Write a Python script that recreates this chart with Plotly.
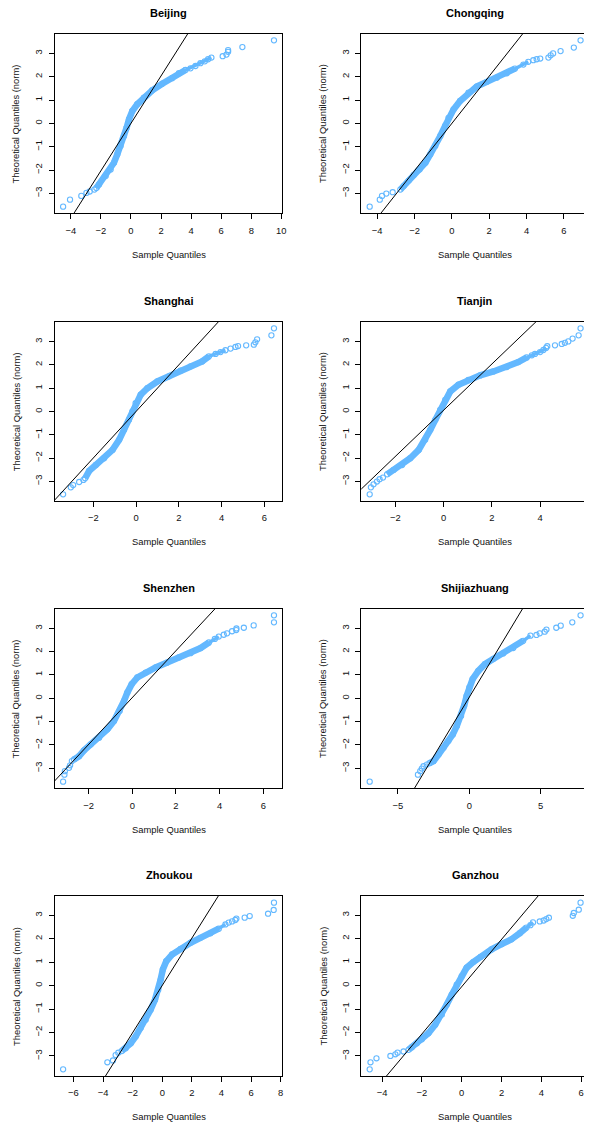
import plotly.graph_objects as go

# The page has an 8px body margin, so the figure is drawn 8px smaller and
# all pixel positions below are expressed in window pixels minus that offset.
OFF = 8
W, H = 592 - OFF, 1124 - OFF

cities = ["Beijing", "Chongqing", "Shanghai", "Tianjin",
          "Shenzhen", "Shijiazhuang", "Zhoukou", "Ganzhou"]

# ---- Beijing ----
beijing_low_x = [-4.51, -4.05, -3.30, -2.96, -2.74, -2.43]
beijing_low_y = [-3.57, -3.27, -3.11, -2.98, -2.92, -2.84]
beijing_body_x = [-2.30, -2.12, -1.68, -1.35, -1.13, -0.91, -0.69, -0.46, -0.29, -0.13, 0.09, 0.42,
                  0.86, 1.42, 2.08, 2.74, 3.19, 3.63, 3.96, 4.29, 4.62, 4.91, 5.13, 5.35]
beijing_body_y = [-2.77, -2.62, -2.26, -1.98, -1.69, -1.33, -0.97, -0.54, -0.19, 0.17, 0.53, 0.82,
                  1.10, 1.42, 1.70, 1.94, 2.15, 2.29, 2.36, 2.46, 2.58, 2.66, 2.75, 2.82]
beijing_high_x = [6.10, 6.35, 6.46, 6.46, 7.41, 9.51]
beijing_high_y = [2.88, 2.95, 3.07, 3.14, 3.27, 3.56]
beijing_qqline = (1.017, 0.0)

# ---- Chongqing ----
chongqing_low_x = [-4.40, -3.86, -3.74, -3.51, -3.17]
chongqing_low_y = [-3.57, -3.27, -3.11, -3.01, -2.95]
chongqing_body_x = [-2.76, -2.58, -2.31, -2.05, -1.73, -1.42, -1.16, -0.89, -0.62, -0.36, -0.18, 0.09,
                    0.44, 0.89, 1.33, 1.87, 2.40, 2.94, 3.38, 3.83, 4.09]
chongqing_body_y = [-2.84, -2.69, -2.45, -2.22, -1.98, -1.69, -1.33, -0.97, -0.54, -0.11, 0.24, 0.60,
                    0.96, 1.32, 1.58, 1.78, 1.96, 2.15, 2.35, 2.52, 2.64]
chongqing_high_x = [4.36, 4.54, 4.73, 5.17, 5.29, 5.42, 5.82, 6.53, 6.89]
chongqing_high_y = [2.71, 2.75, 2.78, 2.82, 2.92, 3.00, 3.10, 3.25, 3.56]
chongqing_qqline = (1.013, 0.0)

# ---- Shanghai ----
shanghai_low_x = [-3.41, -3.05, -2.94, -2.66, -2.46]
shanghai_low_y = [-3.56, -3.26, -3.16, -3.03, -2.94]
shanghai_body_x = [-2.38, -2.19, -1.88, -1.49, -1.10, -0.79, -0.56, -0.33, -0.17, -0.02, 0.22, 0.53,
                   1.00, 1.54, 2.08, 2.55, 3.09, 3.41, 3.72, 3.95, 4.18]
shanghai_body_y = [-2.87, -2.55, -2.30, -2.01, -1.65, -1.22, -0.79, -0.36, 0.00, 0.36, 0.72, 1.00,
                   1.29, 1.51, 1.75, 1.94, 2.15, 2.37, 2.47, 2.55, 2.63]
shanghai_high_x = [4.42, 4.65, 4.77, 5.15, 5.51, 5.58, 5.66, 6.33, 6.45]
shanghai_high_y = [2.70, 2.77, 2.81, 2.84, 2.87, 2.97, 3.10, 3.27, 3.57]
shanghai_qqline = (1.0, 0.0)

# ---- Tianjin ----
tianjin_low_x = [-3.06, -3.01, -2.90, -2.76, -2.65, -2.51]
tianjin_low_y = [-3.56, -3.26, -3.13, -3.01, -2.91, -2.84]
tianjin_body_x = [-2.34, -2.07, -1.72, -1.38, -1.03, -0.76, -0.55, -0.34, -0.14, 0.07, 0.28, 0.62,
                  1.03, 1.52, 2.07, 2.62, 3.10, 3.45, 3.66, 3.79, 4.00, 4.14, 4.25]
tianjin_body_y = [-2.70, -2.51, -2.30, -2.01, -1.65, -1.22, -0.79, -0.36, 0.07, 0.50, 0.86, 1.15,
                  1.36, 1.55, 1.72, 1.91, 2.12, 2.32, 2.41, 2.47, 2.55, 2.64, 2.73]
tianjin_high_x = [4.30, 4.62, 4.90, 5.03, 5.17, 5.35, 5.60, 5.68]
tianjin_high_y = [2.80, 2.84, 2.90, 2.95, 3.01, 3.13, 3.27, 3.57]
tianjin_qqline = (0.992, 0.05)

# ---- Shenzhen ----
shenzhen_low_x = [-3.17, -3.11, -3.09, -2.90, -2.85, -2.77]
shenzhen_low_y = [-3.57, -3.27, -3.12, -2.98, -2.87, -2.69]
shenzhen_body_x = [-2.67, -2.44, -2.21, -1.91, -1.52, -1.14, -0.84, -0.58, -0.38, -0.23, -0.03, 0.23,
                   0.61, 1.07, 1.60, 2.13, 2.67, 3.13, 3.51, 3.78, 3.96]
shenzhen_body_y = [-2.62, -2.48, -2.23, -1.98, -1.69, -1.33, -0.97, -0.54, -0.11, 0.24, 0.60, 0.89,
                   1.10, 1.32, 1.53, 1.75, 1.93, 2.15, 2.39, 2.54, 2.64]
shenzhen_high_x = [4.19, 4.34, 4.57, 4.76, 4.77, 5.11, 5.56, 6.49, 6.49]
shenzhen_high_y = [2.72, 2.78, 2.87, 2.92, 2.99, 3.02, 3.12, 3.25, 3.55]
shenzhen_qqline = (1.003, 0.03)

# ---- Shijiazhuang ----
shijiazhuang_low_x = [-6.98, -3.60, -3.44, -3.33, -3.21, -2.98]
shijiazhuang_low_y = [-3.57, -3.27, -3.12, -3.01, -2.91, -2.84]
shijiazhuang_body_x = [-2.79, -2.51, -2.16, -1.81, -1.47, -1.16, -0.88, -0.58, -0.37, -0.19, 0.00, 0.23,
                       0.63, 1.09, 1.67, 2.37, 3.07, 3.77, 4.28]
shijiazhuang_body_y = [-2.78, -2.69, -2.41, -2.12, -1.83, -1.55, -1.19, -0.76, -0.33, 0.10, 0.46, 0.82,
                       1.17, 1.46, 1.68, 1.92, 2.15, 2.46, 2.68]
shijiazhuang_high_x = [4.70, 4.93, 5.28, 5.40, 6.09, 6.40, 7.21, 7.79]
shijiazhuang_high_y = [2.71, 2.78, 2.85, 2.94, 3.02, 3.11, 3.25, 3.55]
shijiazhuang_qqline = (1.015, 0.05)

# ---- Zhoukou ----
zhoukou_low_x = [-6.70, -3.71, -3.33, -3.15, -2.97]
zhoukou_low_y = [-3.57, -3.27, -3.19, -2.96, -2.86]
zhoukou_body_x = [-2.74, -2.47, -2.13, -1.80, -1.46, -1.12, -0.79, -0.49, -0.27, -0.11, 0.04, 0.27,
                  0.67, 1.24, 1.91, 2.58, 3.26, 3.82, 4.27]
zhoukou_body_y = [-2.79, -2.67, -2.46, -2.17, -1.81, -1.46, -1.03, -0.60, -0.17, 0.26, 0.69, 1.04,
                  1.33, 1.57, 1.83, 2.04, 2.23, 2.43, 2.61]
zhoukou_high_x = [4.49, 4.72, 4.94, 5.01, 5.57, 5.91, 7.15, 7.53, 7.55]
zhoukou_high_y = [2.69, 2.74, 2.80, 2.86, 2.90, 2.97, 3.07, 3.23, 3.54]
zhoukou_qqline = (1.007, 0.01)

# ---- Ganzhou ----
ganzhou_low_x = [-4.62, -4.58, -4.28, -3.58, -3.33, -3.22, -2.92]
ganzhou_low_y = [-3.57, -3.27, -3.10, -3.00, -2.93, -2.86, -2.81]
ganzhou_body_x = [-2.67, -2.50, -2.25, -2.00, -1.67, -1.33, -1.00, -0.75, -0.50, -0.25, 0.00, 0.25,
                  0.58, 0.95, 1.50, 2.00, 2.50, 2.92, 3.25, 3.45, 3.58]
ganzhou_body_y = [-2.74, -2.63, -2.46, -2.29, -2.03, -1.67, -1.24, -0.81, -0.39, 0.04, 0.40, 0.76,
                  1.00, 1.22, 1.54, 1.76, 1.97, 2.23, 2.47, 2.57, 2.69]
ganzhou_high_x = [3.92, 4.12, 4.25, 4.38, 5.58, 5.63, 5.88, 5.97]
ganzhou_high_y = [2.73, 2.77, 2.83, 2.89, 2.97, 3.09, 3.23, 3.53]
ganzhou_qqline = (1.007, -0.05)

x_dticks = [2, 2, 2, 2, 2, 5, 2, 2]

panels = [
    (beijing_low_x, beijing_low_y, beijing_body_x, beijing_body_y, beijing_high_x, beijing_high_y, beijing_qqline),
    (chongqing_low_x, chongqing_low_y, chongqing_body_x, chongqing_body_y, chongqing_high_x, chongqing_high_y, chongqing_qqline),
    (shanghai_low_x, shanghai_low_y, shanghai_body_x, shanghai_body_y, shanghai_high_x, shanghai_high_y, shanghai_qqline),
    (tianjin_low_x, tianjin_low_y, tianjin_body_x, tianjin_body_y, tianjin_high_x, tianjin_high_y, tianjin_qqline),
    (shenzhen_low_x, shenzhen_low_y, shenzhen_body_x, shenzhen_body_y, shenzhen_high_x, shenzhen_high_y, shenzhen_qqline),
    (shijiazhuang_low_x, shijiazhuang_low_y, shijiazhuang_body_x, shijiazhuang_body_y, shijiazhuang_high_x, shijiazhuang_high_y, shijiazhuang_qqline),
    (zhoukou_low_x, zhoukou_low_y, zhoukou_body_x, zhoukou_body_y, zhoukou_high_x, zhoukou_high_y, zhoukou_qqline),
    (ganzhou_low_x, ganzhou_low_y, ganzhou_body_x, ganzhou_body_y, ganzhou_high_x, ganzhou_high_y, ganzhou_qqline),
]

# ---- layout geometry (window pixels) ----
BOX_W = 229.3
col_left = [55.0, 363.7]
row_top = [33.7, 321.7, 608.7, 896.0]
row_bottom = [213.3, 501.0, 788.3, 1076.0]

PT_COLOR = "#63B8FF"
FONT = "Liberation Sans, Arial, Helvetica, sans-serif"
THIN_FROM = 2.25  # band gets thinner in the sparse upper part


def fx(px):
    return (px - OFF) / W


def fy(py):
    return 1 - (py - OFF) / H


def pad_range(vals):
    lo, hi = min(vals), max(vals)
    w = hi - lo
    return [lo - 0.04 * w, hi + 0.04 * w]


fig = go.Figure()
layout = dict(width=W, height=H, margin=dict(l=0, r=0, t=0, b=0),
              paper_bgcolor="white", plot_bgcolor="white", showlegend=False,
              font=dict(family=FONT, color="black"))
annotations = []
marker_style = dict(symbol="circle-open", size=5.2, color=PT_COLOR,
                    line=dict(width=1.1, color=PT_COLOR))

for i, (lx, ly, bx, by, hx, hy, (m, b)) in enumerate(panels):
    r, c = divmod(i, 2)
    sfx = "" if i == 0 else str(i + 1)
    xa, ya = "x" + sfx, "y" + sfx
    xr = pad_range(lx + bx + hx)
    yr = pad_range(ly + by + hy)

    x0p = col_left[c]
    x1p = x0p + BOX_W
    if x1p > OFF + W:  # right column runs past the window edge
        vis = (OFF + W - x0p) / BOX_W
        xr = [xr[0], xr[0] + (xr[1] - xr[0]) * vis]
        x1p = OFF + W

    # dense band: thick part and thinner upper part
    k = next((j for j, v in enumerate(by) if v > THIN_FROM), len(by))
    fig.add_trace(go.Scatter(x=bx[:k + 1], y=by[:k + 1], xaxis=xa, yaxis=ya, mode="lines",
                             line=dict(color=PT_COLOR, width=6.5),
                             hoverinfo="skip"))
    fig.add_trace(go.Scatter(x=bx[k - 1:], y=by[k - 1:], xaxis=xa, yaxis=ya, mode="lines",
                             line=dict(color=PT_COLOR, width=3.5),
                             hoverinfo="skip"))
    fig.add_trace(go.Scatter(x=bx, y=by, xaxis=xa, yaxis=ya, mode="markers",
                             marker=marker_style, hoverinfo="skip"))
    # sparse tail points
    fig.add_trace(go.Scatter(x=lx + hx, y=ly + hy, xaxis=xa, yaxis=ya, mode="markers",
                             marker=marker_style, hoverinfo="skip", cliponaxis=False))
    # qq reference line, extended beyond the axes (clipped by the plot area)
    ly0, ly1 = yr[0] - 1, yr[1] + 1
    fig.add_trace(go.Scatter(x=[(ly0 - b) / m, (ly1 - b) / m], y=[ly0, ly1],
                             xaxis=xa, yaxis=ya, mode="lines",
                             line=dict(color="black", width=1), hoverinfo="skip"))

    axis_common = dict(showline=True, mirror=True, linecolor="black", linewidth=1,
                       ticks="outside", ticklen=5, tickwidth=1, tickcolor="black",
                       showgrid=False, zeroline=False, fixedrange=True,
                       tickfont=dict(family=FONT, size=9.4, color="#111"))
    layout["xaxis" + sfx] = dict(axis_common, domain=[fx(x0p), min(1.0, fx(x1p))],
                                 anchor=ya, range=xr, tick0=0, dtick=x_dticks[i],
                                 ticklabelstandoff=3)
    layout["yaxis" + sfx] = dict(axis_common, domain=[fy(row_bottom[r]), fy(row_top[r])],
                                 anchor=xa, range=yr, tick0=0, dtick=1, tickangle=-90,
                                 ticklabelstandoff=3)

    cx = col_left[c] + BOX_W / 2
    annotations.append(dict(text="<b>" + cities[i] + "</b>", xref="paper", yref="paper",
                            x=fx(cx), y=fy(row_top[r] - 21), xanchor="center", yanchor="middle",
                            borderpad=0,
                            showarrow=False, font=dict(family=FONT, size=11, color="black")))
    annotations.append(dict(text="Sample Quantiles", xref="paper", yref="paper",
                            x=fx(cx), y=fy(row_bottom[r] + 40.7), xanchor="center", yanchor="middle",
                            showarrow=False, font=dict(family=FONT, size=9.4, color="#111")))
    annotations.append(dict(text="Theoretical Quantiles (norm)", xref="paper", yref="paper",
                            x=fx(col_left[c] - 39), y=fy((row_top[r] + row_bottom[r]) / 2),
                            xanchor="center", yanchor="middle", textangle=-90,
                            showarrow=False, font=dict(family=FONT, size=9.4, color="#111")))

layout["annotations"] = annotations
fig.update_layout(**layout)
fig.write_html("out.html")
